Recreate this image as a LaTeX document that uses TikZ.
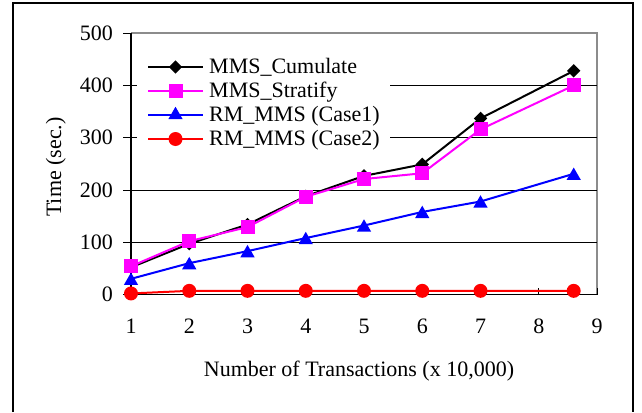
\documentclass[tikz,border=0pt]{standalone}
\usepackage{fontspec}
\setmainfont{Liberation Serif}
\usetikzlibrary{shapes.geometric}
\definecolor{xlmag}{RGB}{255,0,255}
\definecolor{xlblue}{RGB}{0,0,255}
\definecolor{xlred}{RGB}{255,0,0}
\begin{document}
\begin{tikzpicture}[x=1pt,y=-1pt,
  declare function={px(\n)=131+(\n-1)*58.25; py(\v)=294.5-\v*0.5225;},
  lbl/.style={font=\fontsize{22}{24}\selectfont, inner sep=0pt},
  gridln/.style={line width=1pt, black},
  ser/.style={line width=2pt, line join=round},
  mdiam/.style={diamond, fill=black, inner sep=0pt, minimum width=13.5pt, minimum height=13.5pt},
  msq/.style={rectangle, fill=xlmag, inner sep=0pt, minimum size=14pt},
  mtri/.style={regular polygon, regular polygon sides=3, fill=xlblue, inner sep=0pt, minimum size=16.5pt},
  mcirc/.style={circle, fill=xlred, inner sep=0pt, minimum size=14pt},
]
\path[use as bounding box, fill=white] (0,0) rectangle (642,412);
% outer frame
\draw[line width=1.3pt] (13,412) -- (13,3) -- (633,3) -- (633,412);
% plot area border
\draw[black!45, line width=1.5pt] (131,33) -- (597,33) -- (597,294.5);
% gridlines
\foreach \v in {100,200,300,400}
  \draw[gridln] (131,{py(\v)}) -- (597,{py(\v)});
% legend background
\fill[white] (137,45) rectangle (390,157);
% axes
\draw[line width=1.3pt] (131,33) -- (131,294.5) -- (597,294.5);
\foreach \v in {0,100,...,500} {
  \draw[line width=1pt] (123,{py(\v)}) -- (131,{py(\v)});
  \node[lbl, anchor=base east] (yl\v) at (113,{py(\v)+7}) {\v};
}
\foreach \n in {1,...,9} {
  \draw[line width=1pt] ({px(\n)},294.5) -- ({px(\n)},288);
  \node[lbl, anchor=base] (xl\n) at ({px(\n)},333) {\n};
}
\node[lbl, anchor=base] (xt) at (359,376) {Number of Transactions (x 10,000)};
\node[lbl, anchor=base, rotate=90] (yt) at (61,167) {Time (sec.)};
% series 1: MMS_Cumulate
\foreach \i/\xx/\v in {1/1/52,2/2/97,3/3/134,4/4/188,5/5/227,6/6/249,7/7/337,8/8.6/428}
  \coordinate (a\i) at ({px(\xx)},{py(\v)});
\draw[ser, black] (a1) -- (a2) -- (a3) -- (a4) -- (a5) -- (a6) -- (a7) -- (a8);
\foreach \i in {1,...,8} \node[mdiam] (ma\i) at (a\i) {};
% series 2: MMS_Stratify
\foreach \i/\xx/\v in {1/1/54,2/2/102,3/3/129,4/4/187,5/5/221,6/6/232,7/7/316,8/8.6/400}
  \coordinate (b\i) at ({px(\xx)},{py(\v)});
\draw[ser, xlmag] (b1) -- (b2) -- (b3) -- (b4) -- (b5) -- (b6) -- (b7) -- (b8);
\foreach \i in {1,...,8} \node[msq] (mb\i) at (b\i) {};
% series 3: RM_MMS (Case1)
\foreach \i/\xx/\v in {1/1/30,2/2/60,3/3/83,4/4/108,5/5/132,6/6/158,7/7/178,8/8.6/231}
  \coordinate (c\i) at ({px(\xx)},{py(\v)});
\draw[ser, xlblue] (c1) -- (c2) -- (c3) -- (c4) -- (c5) -- (c6) -- (c7) -- (c8);
\foreach \i in {1,...,8} \node[mtri, yshift=-2pt] (mc\i) at (c\i) {};
% series 4: RM_MMS (Case2)
\foreach \i/\xx/\v in {1/1/2,2/2/7,3/3/7,4/4/7,5/5/7,6/6/7,7/7/7,8/8.6/7}
  \coordinate (d\i) at ({px(\xx)},{py(\v)});
\draw[ser, xlred] (d1) -- (d2) -- (d3) -- (d4) -- (d5) -- (d6) -- (d7) -- (d8);
\foreach \i in {1,...,8} \node[mcirc] (md\i) at (d\i) {};
% legend
\foreach \r/\y/\col/\mk/\txt in {1/67/black/mdiam/MMS\_Cumulate, 2/91/xlmag/msq/MMS\_Stratify, 3/115/xlblue/mtri/RM\_MMS (Case1), 4/139/xlred/mcirc/RM\_MMS (Case2)} {
  \coordinate (ls\r) at (148,\y);
  \coordinate (le\r) at (203,\y);
  \draw[ser, \col] (ls\r) -- (le\r);
  \node[\mk] (lm\r) at (175.5,\y) {};
  \node[lbl, anchor=base west] (lt\r) at (209,\y+6.5) {\txt};
}
\end{tikzpicture}
\end{document}
